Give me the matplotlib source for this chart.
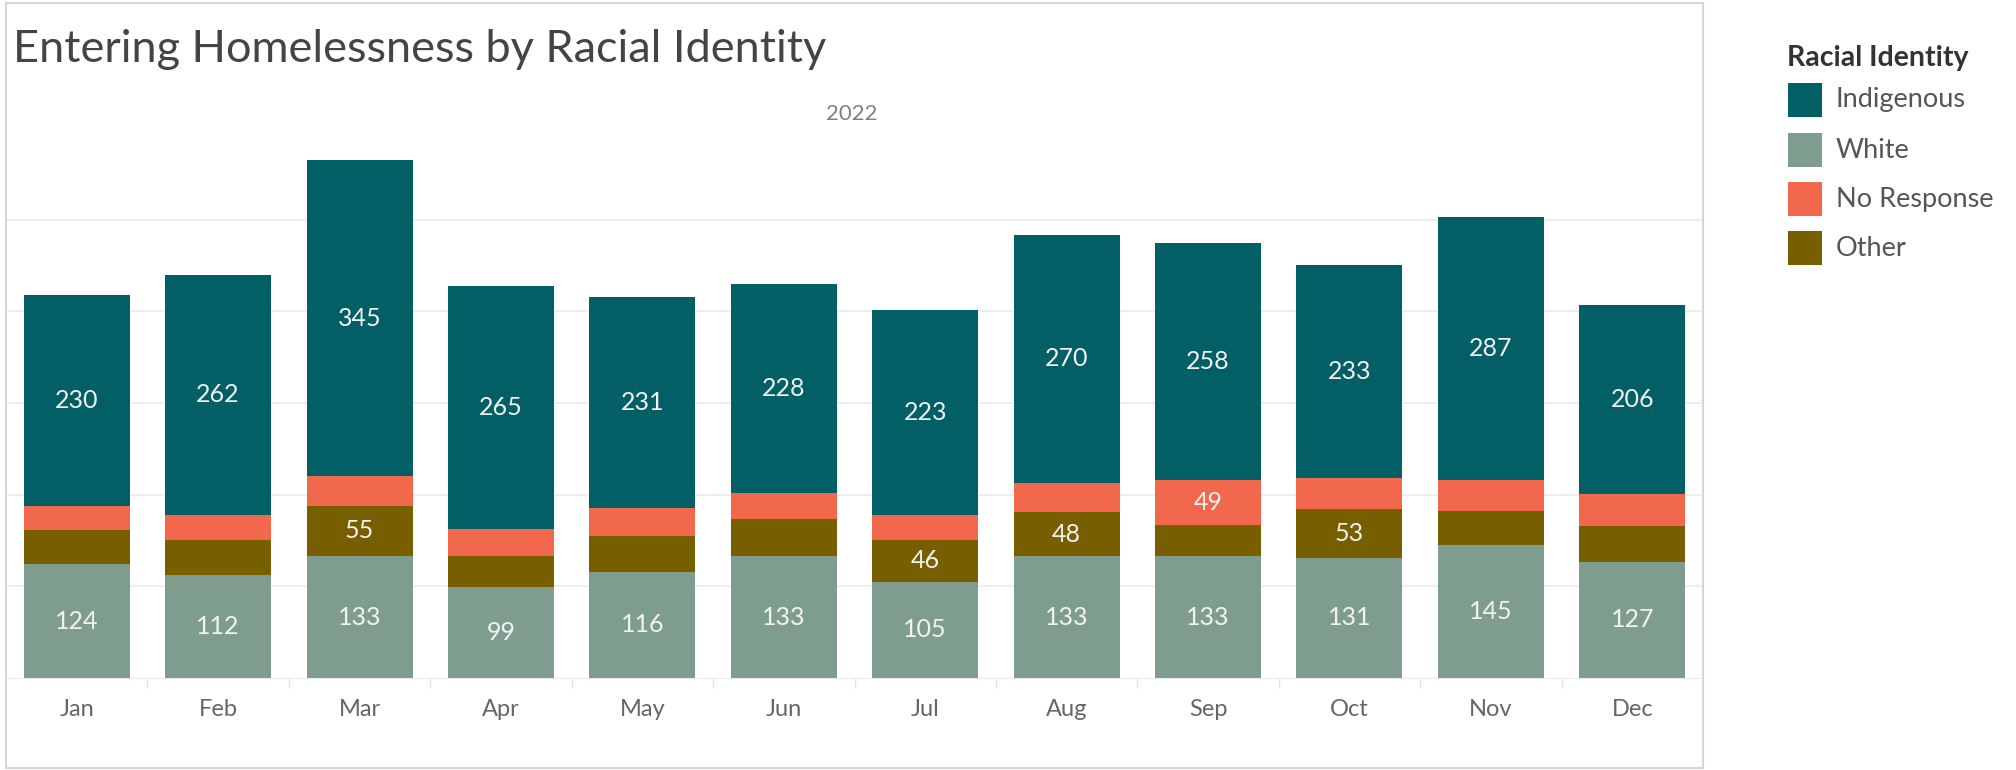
import numpy as np
import matplotlib
matplotlib.use("Agg")
import matplotlib.pyplot as plt
from matplotlib.patches import Rectangle

plt.rcParams['font.family'] = ['Lato', 'DejaVu Sans']

# data (2022, counts per month)
months = ['Jan', 'Feb', 'Mar', 'Apr', 'May', 'Jun', 'Jul', 'Aug', 'Sep', 'Oct', 'Nov', 'Dec']
white = [124, 112, 133, 99, 116, 133, 105, 133, 133, 131, 145, 127]
other = [37, 39, 55, 34, 39, 41, 46, 48, 34, 53, 37, 39]
no_response = [27, 27, 32, 30, 30, 28, 27, 32, 49, 34, 34, 35]
indigenous = [230, 262, 345, 265, 231, 228, 223, 270, 258, 233, 287, 206]

# stacking order bottom -> top
series = [('White', white, '#7f9d8f'),
          ('Other', other, '#775f00'),
          ('No Response', no_response, '#f1684c'),
          ('Indigenous', indigenous, '#025f66')]
legend_order = ['Indigenous', 'White', 'No Response', 'Other']

W, H = 2016, 770
fig = plt.figure(figsize=(W / 100, H / 100), dpi=100)

# plot area in pixel terms
left, right = 6, 1703
base, top = 678, 128
ax = fig.add_axes([left / W, (H - base) / H, (right - left) / W, (base - top) / H])

x = np.arange(len(months))
bottom = np.zeros(len(months))
for name, vals, col in series:
    vals = np.array(vals)
    ax.bar(x, vals, 0.75, bottom=bottom, color=col, zorder=3, linewidth=0)
    for xi, v, b0 in zip(x, vals, bottom):
        if v >= 45:
            ax.text(xi, b0 + v / 2, str(v), ha='center', va='center',
                    color='#f2f2f2', fontsize=18, zorder=4)
    bottom += vals

ax.set_xlim(-0.5, len(months) - 0.5)
ax.set_ylim(0, 600)
ax.set_yticks([100, 200, 300, 400, 500])
ax.yaxis.grid(True, color='#efefef', linewidth=1.5, zorder=0)
ax.tick_params(axis='y', left=False, labelleft=False)

ax.set_xticks(x)
ax.set_xticklabels(months, fontsize=17, color='#666666')
ax.tick_params(axis='x', length=0, pad=15)
ax.set_xticks(np.arange(0.5, len(months) - 1, 1), minor=True)
ax.tick_params(axis='x', which='minor', length=7, width=1, color='#e3e3e3')

for s in ['top', 'right', 'left']:
    ax.spines[s].set_visible(False)
ax.spines['bottom'].set_color('#ededed')

# outer frame of the chart pane
fig.patches.append(Rectangle((6 / W, 2 / H), (1703 - 6) / W, (767 - 2) / H,
                             transform=fig.transFigure, fill=False,
                             edgecolor='#d6d6d6', linewidth=1.5))

fig.text(13 / W, 1 - 49 / H, 'Entering Homelessness by Racial Identity',
         fontsize=32.5, color='#444444', va='center', ha='left')
fig.text(852 / W, 1 - 114 / H, '2022', fontsize=16, color='#808080',
         va='center', ha='center')

# legend drawn by hand to match Tableau style
fig.text(1787 / W, 1 - 58 / H, 'Racial Identity', fontsize=20.5, fontweight='bold',
         color='#333333', va='center', ha='left')
ys = [100, 150, 199, 248]
cols = {n: c for n, _, c in series}
for name, yy in zip(legend_order, ys):
    fig.patches.append(Rectangle((1788 / W, 1 - (yy + 17) / H), 34 / W, 34 / H,
                                 transform=fig.transFigure, facecolor=cols[name],
                                 edgecolor='none'))
    fig.text(1836 / W, 1 - yy / H, name, fontsize=19.5, color='#555555',
             va='center', ha='left')

fig.savefig('out.png', dpi=100)
